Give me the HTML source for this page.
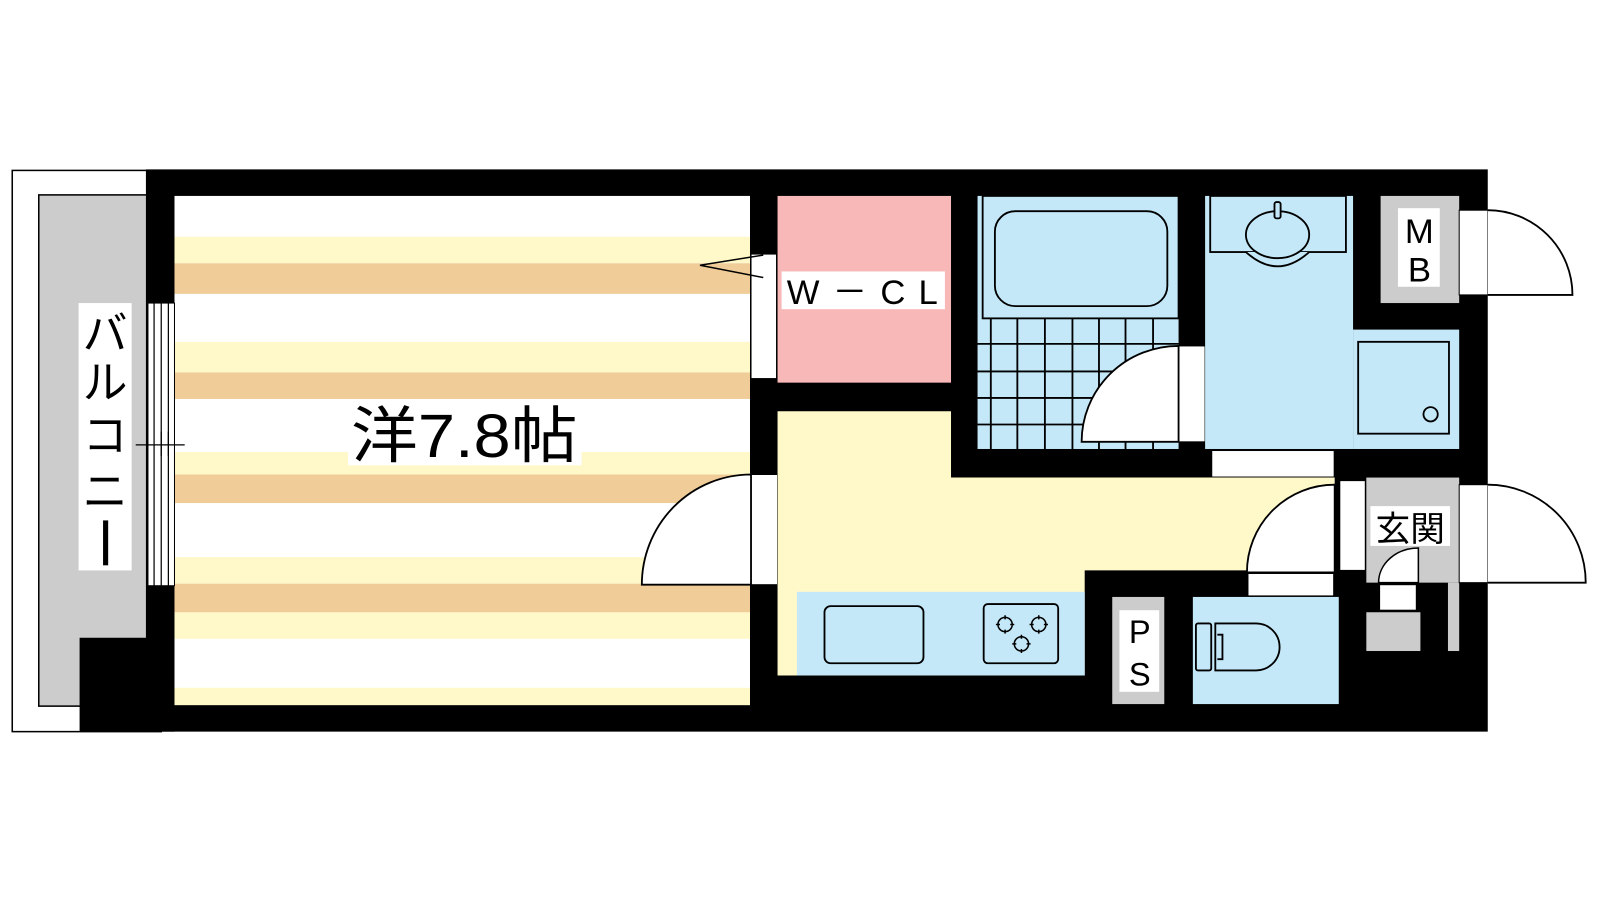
<!DOCTYPE html>
<html><head><meta charset="utf-8"><style>
html,body{margin:0;padding:0;background:#fff;width:1600px;height:900px;overflow:hidden}
svg{display:block}
text{font-family:"Liberation Sans","Noto Sans CJK JP",sans-serif;fill:#000}
</style></head><body>
<svg width="1600" height="900" viewBox="0 0 1568 882" xmlns="http://www.w3.org/2000/svg">
<rect x="0" y="0" width="1568" height="882" fill="#fff"/>
<!-- balcony -->
<rect x="12" y="167" width="146" height="550" fill="#fff" stroke="#000" stroke-width="1.5"/>
<rect x="38" y="191" width="110" height="501" fill="#cccccc" stroke="#000" stroke-width="1.5"/>
<!-- main black -->
<rect x="143" y="166" width="1315" height="551" fill="#000"/>
<rect x="78" y="625" width="93" height="92" fill="#000"/>
<!-- room -->
<rect x="171" y="192" width="564" height="499" fill="#fff"/>
<g fill="#fff8c8">
<rect x="171" y="232" width="564" height="26"/>
<rect x="171" y="335" width="564" height="30"/>
<rect x="171" y="443" width="564" height="22"/>
<rect x="171" y="546" width="564" height="26"/>
<rect x="171" y="600" width="564" height="26"/>
<rect x="171" y="674" width="564" height="17"/>
</g>
<g fill="#f0cd98">
<rect x="171" y="258" width="564" height="30"/>
<rect x="171" y="365" width="564" height="26"/>
<rect x="171" y="465" width="564" height="28"/>
<rect x="171" y="572" width="564" height="28"/>
</g>
<!-- window -->
<rect x="145" y="297" width="26" height="277" fill="#fff" stroke="#000" stroke-width="1"/>
<g stroke="#000" stroke-width="1.2"><line x1="151" y1="297" x2="151" y2="574"/><line x1="158" y1="297" x2="158" y2="574"/><line x1="165" y1="297" x2="165" y2="574"/>
<line x1="133" y1="436" x2="181" y2="436"/><line x1="158" y1="423" x2="158" y2="447"/><line x1="165" y1="423" x2="165" y2="447"/></g>
<rect x="77" y="297" width="52" height="262" fill="#fff"/>
<text x="103" y="342" font-size="44" text-anchor="middle">バ</text>
<text x="103" y="390" font-size="44" text-anchor="middle">ル</text>
<text x="103" y="442" font-size="44" text-anchor="middle">コ</text>
<text x="103" y="497" font-size="44" text-anchor="middle">ニ</text>
<rect x="101" y="510" width="5" height="44" fill="#000"/>
<rect x="341" y="395" width="229" height="61" fill="#fff"/>
<text x="455" y="448" font-size="60" text-anchor="middle" textLength="222" lengthAdjust="spacingAndGlyphs">洋7.8帖</text>
<!-- WCL -->
<rect x="762" y="192" width="170" height="183" fill="#f9b8b8"/>
<rect x="766" y="266" width="160" height="37" fill="#fff"/>
<text x="771" y="298" font-size="34" textLength="148" lengthAdjust="spacing">W－CL</text>
<rect x="736" y="249" width="25" height="122" fill="#fff" stroke="#000" stroke-width="1"/>
<polyline points="748,250 686,260 748,272" fill="none" stroke="#000" stroke-width="1.5"/>
<!-- room door -->
<rect x="736" y="465" width="26" height="108" fill="#fff" stroke="#000" stroke-width="1"/>
<path d="M736,465 A107,108 0 0 0 629,573 L736,573 Z" fill="#fff" stroke="#000" stroke-width="1.8"/>
<!-- corridor -->
<path d="M762,403 H932 V468 H1308 V559 H1063 V662 H762 Z" fill="#fff8c8"/>
<!-- kitchen -->
<rect x="781" y="580" width="282" height="82" fill="#c4e8f8"/>
<rect x="808" y="594" width="97" height="56" rx="6" fill="none" stroke="#000" stroke-width="1.8"/>
<rect x="964" y="592" width="73" height="58" rx="4" fill="none" stroke="#000" stroke-width="1.8"/>
<g fill="none" stroke="#000" stroke-width="1.5">
<circle cx="985" cy="612" r="7"/><circle cx="1018" cy="612" r="7"/><circle cx="1001" cy="631" r="7"/>
<path d="M985,603v4M985,617v4M976,612h4M990,612h4M1018,603v4M1018,617v4M1009,612h4M1023,612h4M1001,622v4M1001,636v4M992,631h4M1006,631h4"/>
</g>
<!-- bath -->
<rect x="958" y="192" width="197" height="248" fill="#c4e8f8"/>
<g stroke="#000" stroke-width="1.8" fill="none">
<rect x="963" y="192" width="192" height="120"/>
<rect x="975" y="207" width="169" height="93" rx="20"/>
<path d="M971,312V440M997,312V440M1024,312V440M1051,312V440M1077,312V440M1103,312V440M1130,312V440M958,337H1155M958,364H1155M958,390H1155M958,416H1155"/>
</g>
<rect x="1155" y="339" width="26" height="94" fill="#fff" stroke="#000" stroke-width="1"/>
<path d="M1155,339 A95,94 0 0 0 1060,433 L1155,433 Z" fill="#fff" stroke="#000" stroke-width="1.8"/>
<!-- washroom -->
<rect x="1181" y="192" width="145" height="248" fill="#c4e8f8"/>
<rect x="1326" y="323" width="104" height="117" fill="#c4e8f8"/>
<g stroke="#000" stroke-width="1.8" fill="#c4e8f8">
<rect x="1186" y="192" width="133" height="55"/>
<path d="M1221,247 Q1252,275 1283,247"/>
<ellipse cx="1252" cy="230" rx="31" ry="23"/>
<rect x="1249" y="198" width="6" height="16" rx="2"/>
<rect x="1331" y="335" width="89" height="90"/>
<circle cx="1402" cy="406" r="7"/>
</g>
<rect x="1188" y="442" width="119" height="25" fill="#fff"/>
<rect x="1353" y="192" width="77" height="105" fill="#cccccc"/>
<rect x="1370" y="204" width="41" height="77" fill="#fff"/>
<text x="1391" y="238" font-size="34" text-anchor="middle">M</text>
<text x="1391" y="276" font-size="34" text-anchor="middle">B</text>
<rect x="1430" y="206" width="28" height="83" fill="#fff" stroke="#000" stroke-width="1"/>
<path d="M1458,206 A83,83 0 0 1 1541,289 L1458,289" fill="#fff" stroke="#000" stroke-width="1.8"/>
<!-- toilet door -->
<rect x="1313" y="471" width="25" height="88" fill="#fff" stroke="#000" stroke-width="1"/>
<path d="M1308,475 A86,86 0 0 0 1222,561 L1308,561 Z" fill="#fff" stroke="#000" stroke-width="1.8"/>
<rect x="1223" y="562" width="84" height="22" fill="#fff" stroke="#000" stroke-width="1"/>
<!-- toilet -->
<rect x="1169" y="585" width="143" height="105" fill="#c4e8f8"/>
<g stroke="#000" stroke-width="1.8" fill="none">
<rect x="1172" y="611" width="15" height="46" rx="2"/>
<path d="M1191,611 H1231 A23,23 0 0 1 1231,657 H1191 Z"/>
<path d="M1193,622 H1198 V646 H1193"/>
</g>
<!-- PS -->
<rect x="1090" y="585" width="51" height="105" fill="#cccccc"/>
<rect x="1097" y="598" width="39" height="80" fill="#fff"/>
<text x="1117" y="630" font-size="32" text-anchor="middle">P</text>
<text x="1117" y="672" font-size="32" text-anchor="middle">S</text>
<!-- entrance -->
<rect x="1339" y="468" width="91" height="103" fill="#cccccc"/>
<rect x="1419" y="571" width="11" height="67" fill="#cccccc"/>
<rect x="1339" y="600" width="53" height="38" fill="#cccccc"/>
<rect x="1343" y="496" width="78" height="39" fill="#fff"/>
<text x="1382" y="530" font-size="34" text-anchor="middle">玄関</text>
<rect x="1352" y="573" width="36" height="25" fill="#fff" stroke="#000" stroke-width="1"/>
<path d="M1390,537 A39,34 0 0 0 1351,571 L1390,571 Z" fill="#fff" stroke="#000" stroke-width="1.5"/>
<rect x="1430" y="475" width="28" height="96" fill="#fff" stroke="#000" stroke-width="1"/>
<path d="M1458,475 A96,96 0 0 1 1554,571 L1458,571" fill="#fff" stroke="#000" stroke-width="1.8"/>
</svg>
</body></html>
